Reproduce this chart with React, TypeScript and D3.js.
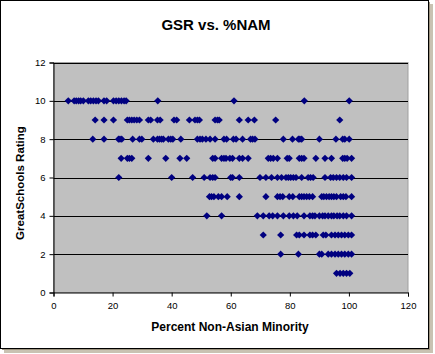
import React, { useRef, useEffect } from 'react';
import * as d3 from 'd3';

// percent non-asian minority, grouped by GreatSchools rating
const rating10 = [5, 7, 7.7, 8.5, 9.2, 10.1, 11.8, 12.6, 13.5, 14.4, 15.2, 17.1, 18, 20.3, 21.2, 22.1, 23, 23.9, 24.6, 35.3, 61.1, 84.9, 100.1];
const rating9 = [14.1, 17.1, 20.3, 25, 25.7, 26.5, 27.3, 28.2, 29.1, 32.1, 32.9, 35.2, 36.1, 40.8, 41.7, 46, 47.9, 48.7, 49.4, 54.7, 55.5, 56.1, 62.9, 65.9, 68, 75.2, 96.9];
const rating8 = [13.3, 17.1, 22, 22.5, 23.1, 26.8, 29.1, 29.9, 33.8, 35.2, 35.9, 36.6, 37.2, 38.9, 39.7, 40.4, 43.1, 48.7, 49.6, 50.4, 51.6, 53, 54.7, 57.7, 58.6, 60.9, 61.8, 64, 66.7, 67.4, 68.2, 77.8, 80.9, 82.9, 83.4, 84, 90, 95.6, 97.9, 98.6, 100.1];
const rating7 = [22.9, 25, 25.7, 26.5, 32.1, 38, 42.8, 45.1, 53.9, 54.7, 56.9, 57.7, 58.4, 59.7, 60.6, 62.9, 64, 65.9, 72.7, 73.5, 74.4, 75.8, 79.1, 79.8, 83.2, 84, 84.8, 88.8, 91.9, 94.1, 97.9, 98.6, 99.4, 100.9];
const rating6 = [22.1, 40, 47.1, 51, 53, 53.9, 54.7, 60, 60.6, 62.9, 69.9, 71.9, 73.8, 75.8, 77.2, 78.7, 79.5, 80.3, 81.2, 82.1, 84, 86.2, 87, 87.9, 91.9, 93.8, 94.7, 95.8, 96.9, 98.1, 99.2, 100.9];
const rating5 = [52.8, 53.5, 54.3, 55.8, 56.9, 58.8, 62.9, 71.9, 75.8, 76.7, 77.6, 79.8, 81, 83.2, 84, 84.8, 85.7, 86.6, 87.7, 90.8, 91.5, 92.4, 93.3, 94.1, 94.9, 95.8, 97.2, 98.1, 99, 100.9];
const rating4 = [51.9, 56.9, 69, 71, 73, 74.2, 75.8, 77.8, 79.8, 81.2, 82.5, 84.8, 86.8, 87.7, 88.5, 90, 91.1, 91.9, 93, 94.1, 94.9, 96, 96.9, 98.1, 99.2, 100.9];
const rating3 = [71, 76.9, 82.3, 83.2, 84.8, 86.8, 87.7, 88.8, 91.3, 92.2, 94.1, 95.3, 96.4, 97.5, 98.6, 99.8, 100.9];
const rating2 = [76.9, 82.9, 90, 90.8, 93, 94.1, 95.3, 96.4, 97.5, 98.6, 99.8, 100.9];
const rating1 = [95.8, 97, 98.1, 99.2, 100.3];

const xTicks = [0, 20, 40, 60, 80, 100, 120];
const yTicks = [0, 2, 4, 6, 8, 10, 12];

const byRating: [number, number[]][] = [
  [10, rating10], [9, rating9], [8, rating8], [7, rating7], [6, rating6],
  [5, rating5], [4, rating4], [3, rating3], [2, rating2], [1, rating1],
];

const App: React.FC = () => {
  const ref = useRef<SVGSVGElement | null>(null);

  useEffect(() => {
    if (!ref.current) return;
    const svg = d3.select(ref.current);
    svg.selectAll('*').remove();

    const width = 435;
    const height = 354;
    const left = 53.5;
    const right = 408;
    const top = 62.5;
    const bottom = 292.5;
    const font = 'Arial, "Liberation Sans", sans-serif';

    const x = d3.scaleLinear().domain([0, 120]).range([left, right]);
    const y = d3.scaleLinear().domain([0, 12]).range([bottom, top]);

    svg.attr('width', width).attr('height', height);

    // frame + shadow
    svg.append('rect').attr('x', 4).attr('y', 4).attr('width', 429).attr('height', 349).attr('fill', '#c9c2b2');
    svg.append('rect').attr('x', 2).attr('y', 2).attr('width', 428).attr('height', 348).attr('fill', '#9c927e');
    svg.append('rect').attr('x', 0.5).attr('y', 0.5).attr('width', 428).attr('height', 348)
      .attr('fill', '#fff').attr('stroke', '#000');

    // plot area
    svg.append('rect')
      .attr('x', left).attr('y', top)
      .attr('width', right - left).attr('height', bottom - top)
      .attr('fill', '#c0c0c0').attr('stroke', '#a0a0a0');

    svg.append('g')
      .selectAll('line')
      .data(yTicks.filter(d => d > 0))
      .join('line')
      .attr('x1', left).attr('x2', right)
      .attr('y1', d => Math.round(y(d)) + 0.5).attr('y2', d => Math.round(y(d)) + 0.5)
      .attr('stroke', '#000');

    svg.append('g')
      .attr('transform', `translate(${left},0)`)
      .call(d3.axisLeft(y).tickValues(yTicks).tickSize(4).tickPadding(4))
      .call(g => g.selectAll('text').attr('font-size', 9.5).attr('font-family', font).attr('fill', '#000'));

    svg.append('g')
      .attr('transform', `translate(0,${bottom})`)
      .call(d3.axisBottom(x).tickValues(xTicks).tickSize(4).tickPadding(6))
      .call(g => g.selectAll('text').attr('font-size', 9.5).attr('font-family', font).attr('fill', '#000'));

    svg.selectAll('.domain').attr('stroke', '#000');

    // points
    const diamond = 'M0,-3.6L3.6,0L0,3.6L-3.6,0Z';
    const points = byRating.flatMap(([r, xs]) => xs.map(v => ({ r, v })));
    svg.append('g')
      .selectAll('path')
      .data(points)
      .join('path')
      .attr('transform', d => `translate(${x(d.v)},${y(d.r)})`)
      .attr('d', diamond)
      .attr('fill', '#000080');

    svg.append('text')
      .attr('x', 216).attr('y', 30)
      .attr('text-anchor', 'middle')
      .attr('font-family', font).attr('font-weight', 'bold').attr('font-size', 15)
      .text('GSR vs. %NAM');

    svg.append('text')
      .attr('x', 230).attr('y', 331)
      .attr('text-anchor', 'middle')
      .attr('font-family', font).attr('font-weight', 'bold').attr('font-size', 12)
      .text('Percent Non-Asian Minority');

    svg.append('text')
      .attr('transform', 'translate(24,183) rotate(-90)')
      .attr('text-anchor', 'middle')
      .attr('font-family', font).attr('font-weight', 'bold').attr('font-size', 11.5)
      .text('GreatSchools Rating');
  }, []);

  return (
    <div style={{ position: 'absolute', left: 0, top: 0 }}>
      <svg ref={ref} />
    </div>
  );
};

export default App;
